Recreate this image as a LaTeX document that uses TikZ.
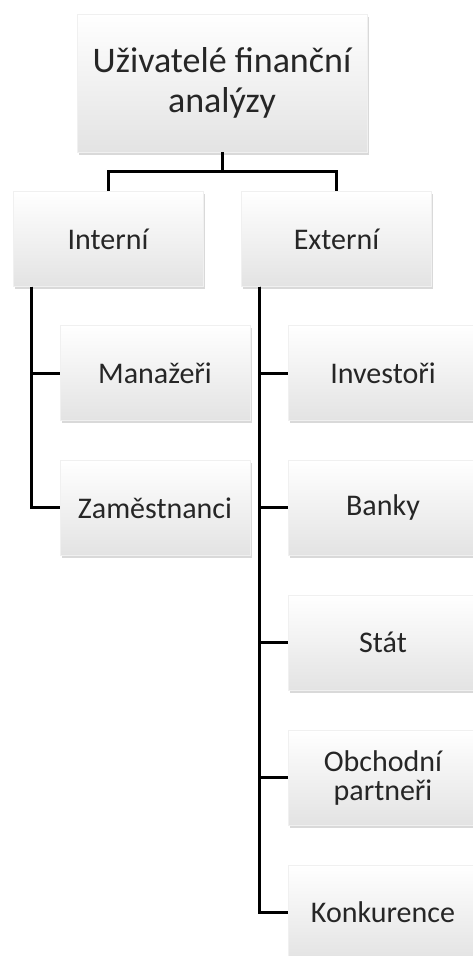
\documentclass[tikz,border=0pt]{standalone}
\usepackage{fontspec}
\setmainfont{Carlito}
\usetikzlibrary{positioning}
\usetikzlibrary{shadows}

\begin{document}
\begin{tikzpicture}[x=1pt, y=-1pt, node distance=39.5pt,
  box/.style={rectangle, draw=black!6, top color=white, bottom color=black!11,
    drop shadow={shadow xshift=1.5pt, shadow yshift=-2.5pt, opacity=0.3},
    minimum width=190pt, minimum height=95pt, inner sep=2pt, text=black!85,
    font=\fontsize{30}{29}\selectfont, align=center},
  conn/.style={draw, line width=3pt}]
\useasboundingbox (0,0) rectangle (473,956);
\node[box, minimum width=290pt, minimum height=138pt, font=\fontsize{36}{40}\selectfont] (UF) at (222,83) {Uživatelé finanční\\analýzy};
\node[box] (Int) at (108,239) {Interní};
\node[box] (Ext) at (336.5,239) {Externí};
\node[box] (Man) at (155,373) {Manažeři};
\node[box] (Zam) [below=of Man] {Zaměstnanci};
\node[box] (Inv) at (383,373) {Investoři};
\node[box] (Ban) [below=of Inv] {Banky};
\node[box] (Stat) [below=of Ban] {Stát};
\node[box] (Obch) [below=of Stat] {Obchodní\\partneři};
\node[box] (Konk) [below=of Obch] {Konkurence};
\draw[conn] (UF.south) -- ++(0,19) -| (Int.north);
\draw[conn] (UF.south) ++(0,19) -| (Ext.north);
\foreach \n in {Man, Zam}
  \draw[conn] (Int.south west) ++(19,0) |- (\n.west);
\foreach \n in {Inv, Ban, Stat, Obch, Konk}
  \draw[conn] (Ext.south west) ++(18,0) |- (\n.west);
\end{tikzpicture}
\end{document}
